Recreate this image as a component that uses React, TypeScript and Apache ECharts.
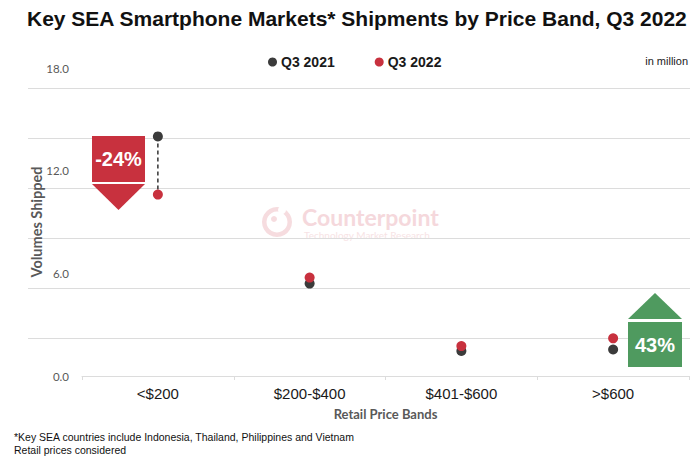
import React, { useEffect, useRef } from "react";
import * as echarts from "echarts";

const categories = ["<$200", "$200-$400", "$401-$600", ">$600"];
const q3_2021 = [14.0, 5.4, 1.46, 1.55];
const q3_2022 = [10.6, 5.75, 1.75, 2.2];
const yTicks = [0, 6, 12, 18];
const seriesNames = ["Q3 2021", "Q3 2022"];
const changeLabels = ["-24%", "43%"];

const RED = "#c8313e";
const DARK = "#3b3b3b";
const GREEN = "#4f9a5f";
const GRIDC = "#dcdcdc";

export default function App() {
  const ref = useRef<HTMLDivElement>(null);
  useEffect(() => {
    document.body.style.margin = "0";
    const chart = echarts.init(ref.current!, null, { renderer: "svg" });
    const option: any = {
      animation: false,
      backgroundColor: "#ffffff",
      title: {
        text: "Key SEA Smartphone Markets* Shipments by Price Band, Q3 2022",
        left: 22,
        top: 3,
        textStyle: { fontFamily: "Liberation Sans, Arial", fontWeight: "bold", fontSize: 21, color: "#111" },
      },
      legend: {
        data: seriesNames,
        left: 263,
        top: 50,
        itemGap: 40,
        itemWidth: 9,
        itemHeight: 9,
        icon: "circle",
        textStyle: { fontFamily: "Liberation Sans, Arial", fontWeight: "bold", fontSize: 14, color: "#1a1a1a", padding: [0, 0, 0, -1] },
      },
      grid: [
        { left: 82, right: 11, top: 68, bottom: 82, containLabel: false },
        { left: 28, right: 10, top: 88, height: 250, containLabel: false },
      ],
      xAxis: [
        {
          type: "category",
          gridIndex: 0,
          data: categories,
          boundaryGap: true,
          axisLine: { lineStyle: { color: GRIDC, width: 1 } },
          axisTick: { show: true, length: 4, lineStyle: { color: GRIDC } },
          axisLabel: { fontFamily: "Liberation Sans, Arial", fontSize: 15, color: "#1a1a1a", margin: 10 },
          name: "Retail Price Bands",
          nameLocation: "middle",
          nameGap: 31,
          nameMoveOverlap: false,
          nameTextStyle: { fontFamily: "Lato, Open Sans", fontWeight: "bold", fontSize: 13, color: "#595959" },
          splitLine: { show: false },
        },
        { type: "value", gridIndex: 1, show: false, min: 0, max: 1 },
      ],
      yAxis: [
        {
          type: "value",
          gridIndex: 0,
          min: 0,
          max: 18,
          interval: 6,
          axisLine: { show: false },
          axisTick: { show: false },
          splitLine: { show: false },
          axisLabel: {
            fontFamily: "Lato, Open Sans",
            fontSize: 11.5,
            color: "#595959",
            margin: 13,
            formatter: (v: number) => (yTicks.includes(v) ? v.toFixed(1) : ""),
          },
          name: "Volumes Shipped",
          nameLocation: "middle",
          nameGap: 38,
          nameRotate: 90,
          nameMoveOverlap: false,
          nameTextStyle: { fontFamily: "Lato, Open Sans", fontWeight: "bold", fontSize: 14.5, color: "#595959" },
        },
        {
          type: "value",
          gridIndex: 1,
          min: 0,
          max: 5,
          interval: 1,
          axisLine: { show: false },
          axisTick: { show: false },
          axisLabel: { show: false },
          splitLine: { show: true, lineStyle: { color: GRIDC, width: 1 } },
        },
      ],
      graphic: [
        {
          type: "group",
          silent: true,
          z: 0,
          children: [
            { type: "ring", shape: { cx: 277, cy: 222, r: 15, r0: 10.5 }, style: { fill: "#f6dcdf" } },
            { type: "circle", shape: { cx: 274, cy: 219, r: 3 }, style: { fill: "#f6dcdf" } },
            { type: "circle", shape: { cx: 282, cy: 210, r: 4 }, style: { fill: "#ffffff" } },
            {
              type: "text",
              x: 302,
              y: 205,
              style: { text: "Counterpoint", font: "bold 23px Lato, Open Sans", fill: "#f5d8dc" },
            },
            {
              type: "text",
              x: 304,
              y: 230,
              style: { text: "Technology Market Research", font: "10px Lato, Open Sans", fill: "#f7e3e5" },
            },
          ],
        },
        {
          type: "text",
          right: 12,
          top: 55,
          style: { text: "in million", font: "11px Liberation Sans, Arial", fill: "#222" },
        },
        // red down arrow
        { type: "rect", shape: { x: 92, y: 136, width: 53, height: 46 }, style: { fill: RED }, z: 10 },
        { type: "polygon", shape: { points: [[92, 184], [145, 184], [118.5, 210]] }, style: { fill: RED }, z: 10 },
        {
          type: "text",
          x: 118.5,
          y: 159,
          z: 11,
          style: { text: changeLabels[0], font: "bold 20px Liberation Sans, Arial", fill: "#fff", align: "center", verticalAlign: "middle" },
        },
        // green up arrow
        { type: "polygon", shape: { points: [[628, 319], [682, 319], [655, 293]] }, style: { fill: GREEN }, z: 10 },
        { type: "rect", shape: { x: 628, y: 322, width: 54, height: 45 }, style: { fill: GREEN }, z: 10 },
        {
          type: "text",
          x: 655,
          y: 345,
          z: 11,
          style: { text: changeLabels[1], font: "bold 20px Liberation Sans, Arial", fill: "#fff", align: "center", verticalAlign: "middle" },
        },
        {
          type: "text",
          left: 14,
          top: 430,
          style: {
            text: "*Key SEA countries include Indonesia, Thailand, Philippines and Vietnam\nRetail prices considered",
            font: "10.5px Liberation Sans, Arial",
            fill: "#111",
            lineHeight: 13,
          },
        },
      ],
      series: [
        {
          type: "custom",
          xAxisIndex: 0,
          yAxisIndex: 0,
          silent: true,
          z: 1,
          data: categories.map((_, i) => [i, q3_2021[i], q3_2022[i]]),
          renderItem: (params: any, api: any) => {
            const p1 = api.coord([api.value(0), api.value(1)]);
            const p2 = api.coord([api.value(0), api.value(2)]);
            return {
              type: "line",
              shape: { x1: p1[0], y1: p1[1], x2: p2[0], y2: p2[1] },
              style: { stroke: "#333", lineWidth: 1.5, lineDash: [4, 3] },
            };
          },
        },
        {
          name: seriesNames[0],
          type: "scatter",
          xAxisIndex: 0,
          yAxisIndex: 0,
          symbol: "circle",
          symbolSize: 10,
          z: 3,
          itemStyle: { color: DARK, opacity: 1 },
          data: q3_2021,
        },
        {
          name: seriesNames[1],
          type: "scatter",
          xAxisIndex: 0,
          yAxisIndex: 0,
          symbol: "circle",
          symbolSize: 10,
          z: 4,
          itemStyle: { color: RED, opacity: 1 },
          data: q3_2022,
        },
      ],
    };
    chart.setOption(option);
    return () => chart.dispose();
  }, []);
  return <div ref={ref} style={{ width: 700, height: 458 }} />;
}
